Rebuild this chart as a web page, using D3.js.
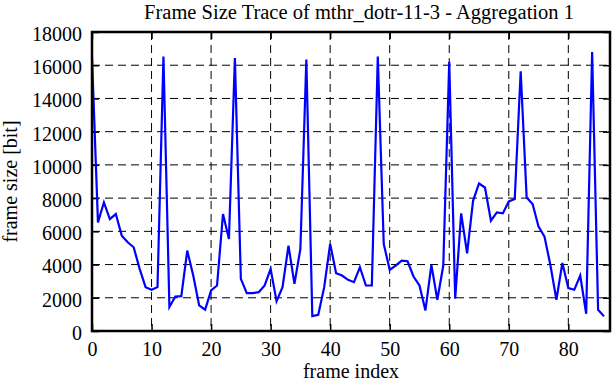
<!DOCTYPE html>
<html>
<head>
<meta charset="utf-8">
<script src="https://cdn.jsdelivr.net/npm/d3@7"></script>
<style>
  body { margin: 0; background: #fff; }
  svg { display: block; }
  svg text { font-family: "Liberation Serif", "DejaVu Serif", serif; }
</style>
</head>
<body>
<div id="chart"></div>
<script>
// frame sizes in bit, one per frame index 0..86
const frameSizes = [
  16500, 6540, 7740, 6740, 7040, 5740, 5340, 5040, 3740, 2640,
  2480, 2640, 16520, 1440, 2080, 2100, 4840, 3340, 1540, 1280,
  2440, 2740, 7040, 5540, 16440, 3140, 2280, 2280, 2340, 2740,
  3740, 1800, 2640, 5140, 2840, 4940, 16340, 900, 980, 2640,
  5240, 3480, 3340, 3080, 2940, 3840, 2740, 2740, 16520, 5240,
  3680, 3940, 4240, 4200, 3280, 2740, 1240, 3980, 1880, 3940,
  16200, 1940, 7080, 4680, 7840, 8880, 8640, 6640, 7140, 7080,
  7800, 7940, 15640, 8040, 7640, 6280, 5680, 3940, 1880, 4100,
  2580, 2480, 3340, 1040, 16800, 1280, 880
]
const xTicks = [0, 10, 20, 30, 40, 50, 60, 70, 80]
const yTicks = [0, 2000, 4000, 6000, 8000, 10000, 12000, 14000, 16000, 18000]

const title = "Frame Size Trace of mthr_dotr-11-3 - Aggregation 1"
const xLabel = "frame index"
const yLabel = "frame size [bit]"

const width = 612, height = 382
const margin = { top: 32, right: 2, bottom: 51, left: 92 }
const innerW = width - margin.left - margin.right
const innerH = height - margin.top - margin.bottom
const fontSize = "20px"

const svg = d3.select("#chart")
  .append("svg")
  .attr("width", width)
  .attr("height", height)

const g = svg.append("g")
  .attr("transform", `translate(${margin.left},${margin.top})`)

const x = d3.scaleLinear().domain([0, 87]).range([0, innerW])
const y = d3.scaleLinear().domain([0, 18000]).range([innerH, 0])

// grid lines (dashed)
g.append("g")
  .selectAll("line")
  .data(xTicks.filter(d => d > 0))
  .join("line")
  .attr("x1", d => x(d)).attr("x2", d => x(d))
  .attr("y1", 0).attr("y2", innerH)
  .style("stroke", "#000")
  .style("stroke-width", 1)
  .style("stroke-dasharray", "8,5")

g.append("g")
  .selectAll("line")
  .data(yTicks.filter(d => d > 0 && d < 18000))
  .join("line")
  .attr("x1", 0).attr("x2", innerW)
  .attr("y1", d => y(d)).attr("y2", d => y(d))
  .style("stroke", "#000")
  .style("stroke-width", 1)
  .style("stroke-dasharray", "8,5")

// axes with inward ticks, mirrored on top and right
const tickLen = 7
const xAxis = g.append("g")
  .attr("transform", `translate(0,${innerH})`)
  .call(d3.axisBottom(x).tickValues(xTicks).tickSizeInner(-tickLen).tickSizeOuter(0).tickFormat(d3.format("d")))
const xAxisTop = g.append("g")
  .call(d3.axisTop(x).tickValues(xTicks).tickSizeInner(-tickLen).tickSizeOuter(0).tickFormat(""))
const yAxis = g.append("g")
  .call(d3.axisLeft(y).tickValues(yTicks).tickSizeInner(-tickLen).tickSizeOuter(0).tickFormat(d3.format("d")))
const yAxisRight = g.append("g")
  .attr("transform", `translate(${innerW},0)`)
  .call(d3.axisRight(y).tickValues(yTicks).tickSizeInner(-tickLen).tickSizeOuter(0).tickFormat(""))

;[xAxis, xAxisTop, yAxis, yAxisRight].forEach(a => {
  a.attr("font-family", null).attr("font-size", null)
  a.select(".domain").remove()
  a.selectAll(".tick line").style("stroke", "#000").style("stroke-width", 1.5)
  a.selectAll("text")
    .style("font-family", "'Liberation Serif', serif")
    .style("font-size", fontSize)
    .style("fill", "#000")
})
xAxis.selectAll("text").attr("y", 25).attr("dy", 0)
yAxis.selectAll("text").attr("x", -10).attr("dy", "0.42em")

// data line
const line = d3.line()
  .x((d, i) => x(i))
  .y(d => y(d))

g.append("path")
  .datum(frameSizes)
  .attr("d", line)
  .style("fill", "none")
  .style("stroke", "#0000ff")
  .style("stroke-width", 2.2)
  .style("stroke-linejoin", "miter")

// border
g.append("rect")
  .attr("width", innerW)
  .attr("height", innerH)
  .style("fill", "none")
  .style("stroke", "#000")
  .style("stroke-width", 2.5)

// title and labels
svg.append("text")
  .attr("x", 359)
  .attr("y", 19)
  .attr("text-anchor", "middle")
  .style("font-size", "20.5px")
  .text(title)

svg.append("text")
  .attr("x", margin.left + innerW / 2)
  .attr("y", 378)
  .attr("text-anchor", "middle")
  .style("font-size", fontSize)
  .text(xLabel)

svg.append("text")
  .attr("transform", `translate(17,${margin.top + innerH / 2}) rotate(-90)`)
  .attr("text-anchor", "middle")
  .style("font-size", fontSize)
  .text(yLabel)
</script>
</body>
</html>
